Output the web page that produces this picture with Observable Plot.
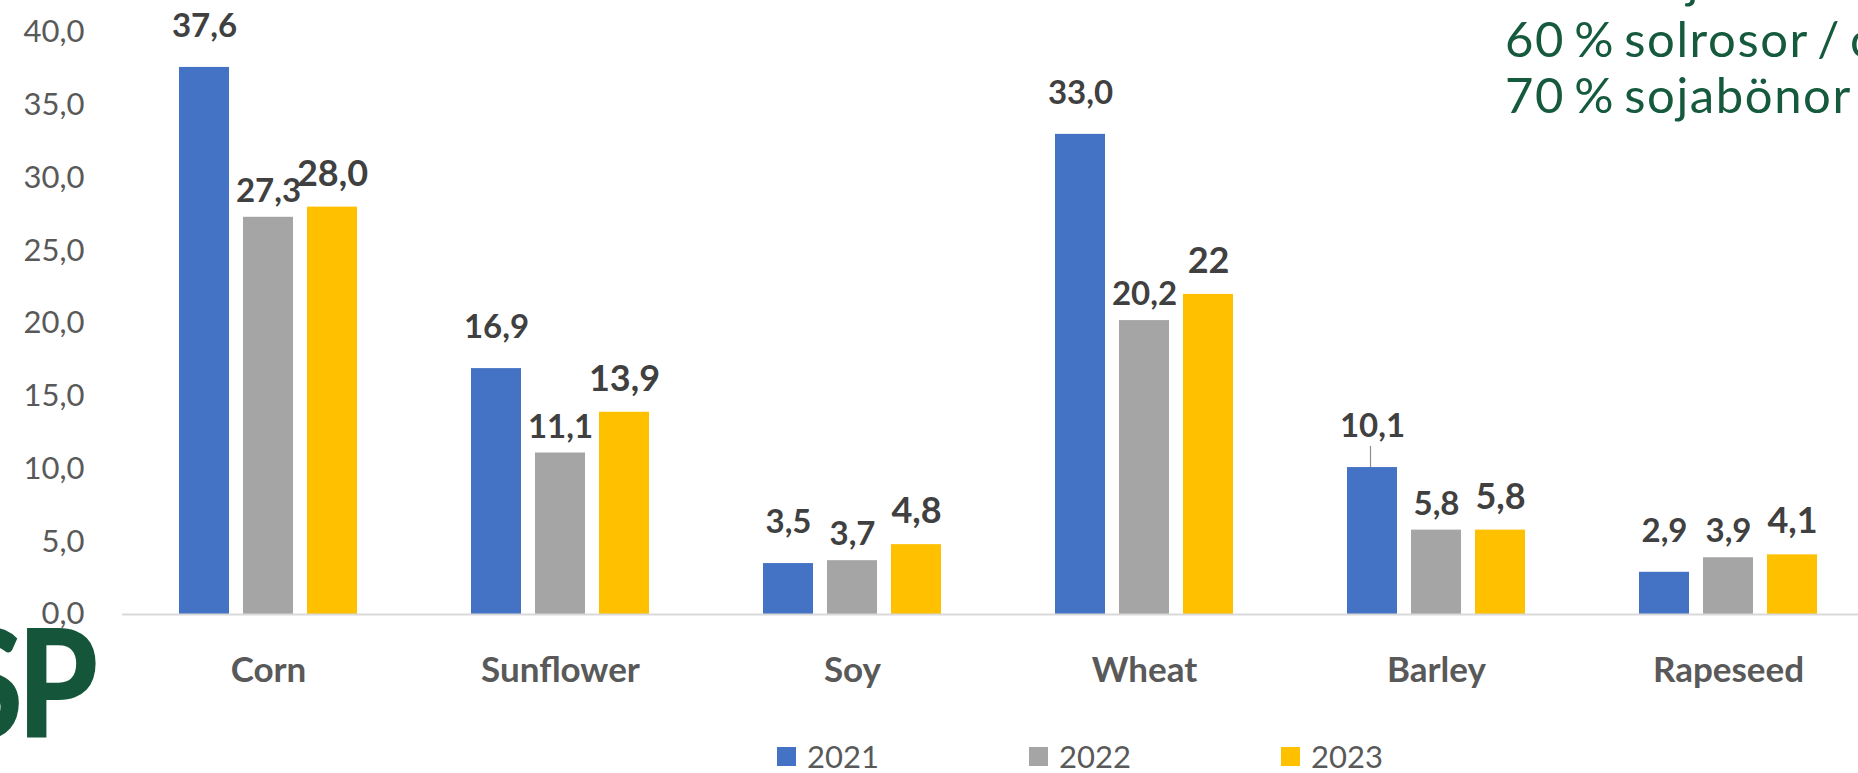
<!DOCTYPE html>
<html>
<head>
<meta charset="utf-8">
<script src="https://cdn.jsdelivr.net/npm/d3@7"></script>
<script src="https://cdn.jsdelivr.net/npm/@observablehq/plot@0.6"></script>
<style>
  html, body { margin: 0; padding: 0; background: #fff; }
  #page { position: relative; width: 1858px; height: 773px; overflow: hidden; background: #fff; }
  #chart svg { display: block; max-width: none !important; }
  #legend { position: absolute; left: 0; top: 700px; width: 1858px; }
  #legend > div { display: flex !important; align-items: center !important; margin: 41px 0 0 777px !important; min-height: 0 !important; height: 30px;
    font-family: Lato, sans-serif !important; font-size: 31px !important; line-height: 1 !important; color: #595959 !important; flex-wrap: nowrap !important; }
  #legend span { width: 252px; margin-right: 0 !important; display: inline-flex; align-items: center; flex: none; line-height: 1; }
  #legend span > svg { margin-right: 11px !important; }
  #overlay { position: absolute; left: 0; top: 0; pointer-events: none; }
</style>
</head>
<body>
<div id="page">
  <div id="chart"></div>
  <div id="legend"></div>
  <svg id="overlay" width="1858" height="773">
    <g font-family="Lato, sans-serif" font-size="49" letter-spacing="1.6" word-spacing="-5" fill="#165A3E">
      <text x="1619" y="-2">majs</text>
      <text x="1505" y="57">60 % solrosor / c</text>
      <text x="1505" y="113">70 % sojabönor</text>
    </g>
    <g font-family="Lato, sans-serif" font-weight="900" font-size="150" fill="#15553A">
      <g transform="translate(98,738) scale(0.86,1)"><text x="0" y="0" text-anchor="end">P</text></g>
      <g transform="translate(23,738) scale(0.86,1)"><text x="0" y="0" text-anchor="end">S</text></g>
    </g>
  </svg>
</div>
<script>
// ---- data ----
const crops = ["Corn", "Sunflower", "Soy", "Wheat", "Barley", "Rapeseed"];
const years = ["2021", "2022", "2023"];
const values2021 = [37.6, 16.9, 3.5, 33.0, 10.1, 2.9];
const values2022 = [27.3, 11.1, 3.7, 20.2, 5.8, 3.9];
const values2023 = [28.0, 13.9, 4.8, 22, 5.8, 4.1];
const labels2021 = ["37,6", "16,9", "3,5", "33,0", "10,1", "2,9"];
const labels2022 = ["27,3", "11,1", "3,7", "20,2", "5,8", "3,9"];
const labels2023 = ["28,0", "13,9", "4,8", "22", "5,8", "4,1"];
const yTicks = [0, 5, 10, 15, 20, 25, 30, 35, 40];
const leaderLines = [{crop: "Barley", year: "2021"}];

// ---- styles ----
const colors = ["#4472C4", "#A5A5A5", "#FFC000"];
const labelStyle = {
  "2021": {dy: -41, fontSize: 33},
  "2022": {dy: -26, fontSize: 33},
  "2023": {dy: -33, fontSize: 36}
};

const seriesValues = [values2021, values2022, values2023];
const seriesLabels = [labels2021, labels2022, labels2023];
const rows = crops.flatMap((crop, i) =>
  years.map((year, j) => ({crop, year, value: seriesValues[j][i], label: seriesLabels[j][i]}))
);
const leaderRows = rows.filter(r => leaderLines.some(l => l.crop === r.crop && l.year === r.year));

const fmt = d => d.toFixed(1).replace(".", ",");

const chart = Plot.plot({
  width: 1900,
  height: 700,
  marginLeft: 121,
  marginRight: 25,
  marginTop: 32,
  marginBottom: 86,
  style: {fontFamily: "Lato, sans-serif", color: "#595959", background: "transparent", maxWidth: "none"},
  fx: {domain: crops, padding: 0, label: null},
  x: {domain: years, paddingInner: 0.217, paddingOuter: 0.875, axis: null},
  y: {domain: [0, 40], label: null},
  color: {domain: years, range: colors},
  marks: [
    Plot.barY(rows, {fx: "crop", x: "year", y: "value", fill: "year"}),
    Plot.ruleY([0], {stroke: "#D9D9D9", strokeWidth: 2}),
    Plot.ruleX(leaderRows, {fx: "crop", x: "year", y1: "value", y2: d => d.value + 1.45, stroke: "#8c8c8c", strokeWidth: 1.2, dx: -2}),
    Plot.axisY(yTicks, {tickSize: 0, tickPadding: 38, fontSize: 31, tickFormat: fmt, label: null, fill: "#595959"}),
    Plot.axisFx({anchor: "bottom", tickSize: 0, tickPadding: 43, fontSize: 35, fontWeight: "bold", label: null, fill: "#595959"}),
    ...years.map(y => Plot.text(rows.filter(r => r.year === y), {
      fx: "crop", x: "year", y: "value", text: "label",
      dy: labelStyle[y].dy, fontSize: labelStyle[y].fontSize, fontWeight: "bold", fill: "#404040"
    }))
  ]
});
document.getElementById("chart").appendChild(chart);

const legend = Plot.legend({
  color: {domain: years, range: colors},
  legend: "swatches",
  swatchSize: 19,
  className: "lg"
});
document.getElementById("legend").appendChild(legend);
</script>
</body>
</html>
